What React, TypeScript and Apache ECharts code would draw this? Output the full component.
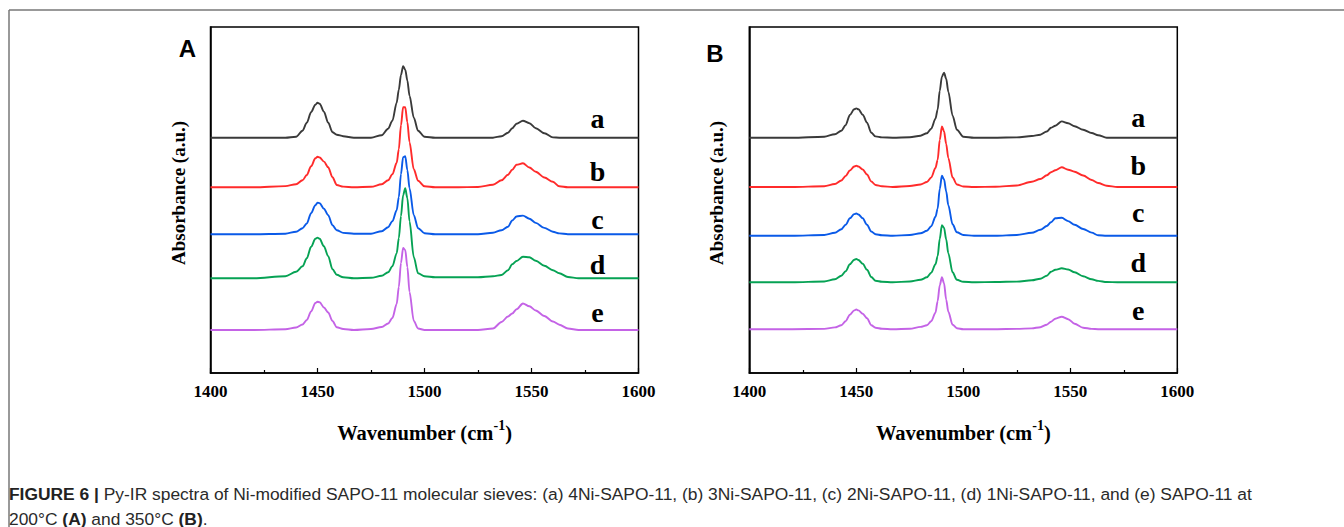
import React, { useEffect, useRef } from "react";
import * as echarts from "echarts";

// Wavenumber grid (cm-1)
const wavenumbers = [1400, 1420, 1435, 1440, 1443, 1445, 1447, 1449, 1450, 1451, 1453, 1455, 1457, 1459, 1462, 1467, 1475, 1480, 1483, 1485, 1487, 1488, 1489, 1490, 1491, 1492, 1493, 1495, 1497, 1500, 1505, 1515, 1525, 1532, 1536, 1539, 1541, 1543, 1546, 1549, 1552, 1556, 1560, 1563, 1567, 1572, 1580, 1590, 1600];

const sampleLabels = ["a", "b", "c", "d", "e"];
const sampleColors = ["#3a3a3a", "#ff2b2b", "#0a5ae8", "#06a254", "#c463e6"];

// Panel A (200 °C): absorbance above each baseline (a.u.)
const A_a = [0, 0, 0, 1, 7, 15, 25.5, 33, 35, 34, 26, 15, 5.5, 3, 1.5, 0, 0, 2.5, 9, 17, 35, 48, 62.7, 71.5, 68, 57, 42, 20, 7, 1, 0, 0, 0, 0, 1.5, 5, 9.5, 14, 17, 14.5, 9.5, 4.5, 0.3, 0, 0, 0, 0, 0, 0];
const A_b = [0, 0, 1.2, 3, 7, 12.3, 21, 29, 30.5, 29.8, 25.7, 20, 10, 2.3, 0.7, 0, 0.5, 3, 7, 13, 24.5, 38, 62, 80, 80, 65, 45, 18, 6.5, 1, 0, 0, 0.3, 2.5, 7, 12.5, 17.5, 22.5, 24, 19.8, 15.5, 9.8, 5.5, 1, 0, 0, 0, 0, 0];
const A_c = [0, 0, 0.5, 2.5, 6, 10.7, 21, 29, 31.5, 31, 25.5, 19, 9, 4, 1.3, 0.5, 0.5, 3, 7, 13, 24, 37, 60, 77, 78, 64, 46, 19, 6, 1, 0, 0, 0, 1.5, 4, 7.5, 13.7, 17.7, 18.6, 15.5, 11.3, 6.3, 2.5, 0.8, 0, 0, 0, 0, 0];
const A_d = [0, 0, 2, 6.5, 12, 20, 31.5, 39.5, 40.7, 39.5, 32, 22, 9, 3.5, 1, 0, 0.5, 2.5, 6, 12, 25, 40, 62, 83, 90, 80, 57, 21, 5, 2, 1, 1, 1, 2, 3.3, 8, 14, 17.3, 21.5, 21, 17.5, 12.5, 8, 5, 1.3, 0, 0, 0, 0];
const A_e = [0, 0, 0.8, 2.5, 5.5, 10, 18.5, 27, 28.3, 27.7, 22.5, 17.5, 9, 2.7, 1, 0, 1, 3, 6.5, 12, 26, 43, 67, 82, 80, 63, 38, 9, 1.5, 0, 0, 0, 0, 1.5, 8, 13.5, 16.5, 20.7, 26.5, 23.7, 19.5, 14, 8.5, 5.3, 1.5, 0, 0, 0, 0];
const A_offsets = [235.3, 185.7, 138.8, 94.7, 43];

// Panel B (350 °C)
const B_a = [0, 0, 1, 3.5, 7, 12.5, 22.7, 28.5, 29.3, 28.5, 23, 15, 5, 1.3, 0.3, 0, 0.5, 2, 4.5, 9, 19, 28, 47, 61, 65, 59, 46, 22, 8, 1, 0, 0, 0.3, 1.7, 3, 6.2, 10, 12, 16.3, 14.5, 11.5, 8, 4.7, 2.5, 0, 0, 0, 0, 0];
const B_b = [0, 0, 0.8, 3, 6.5, 11, 16.5, 20.5, 21.3, 20.5, 17.5, 12.5, 5.5, 2, 0.7, 0, 1, 2.5, 5, 9.5, 19, 27, 47, 60.5, 55.7, 43, 29, 9.5, 2.5, 0.5, 0, 0.3, 1.5, 5.2, 8, 11.7, 14.8, 16.7, 19.7, 17.3, 15.3, 11.5, 7, 4, 1.3, 0, 0, 0, 0];
const B_c = [0, 0, 0.8, 3, 6.5, 11, 17.5, 21.7, 22.3, 21.3, 17.5, 11, 4.3, 1.5, 0.5, 0, 0.8, 2.5, 5, 9.5, 19, 27, 47, 60, 56.5, 44.5, 30.5, 11.5, 3.5, 0.8, 0, 0, 0.8, 3, 6, 9.8, 13.5, 17.5, 18, 14.7, 11, 6.8, 3.2, 0.5, 0, 0, 0, 0, 0];
const B_d = [0, 0, 0.8, 3, 6.5, 11, 18, 22.5, 23.3, 22.3, 18.5, 12.5, 5.3, 1.5, 0.5, 0, 0.8, 2.5, 5, 9.5, 18, 26, 43.5, 57, 54.5, 43, 29, 10, 2.5, 0.5, 0, 0.3, 0.7, 2, 3.6, 6.5, 10.5, 12.5, 14, 12.8, 10, 6, 3, 1.4, 0.3, 0, 0, 0, 0];
const B_e = [0, 0, 0.3, 1.8, 4, 8, 14.5, 18.8, 19.7, 18.8, 15.5, 11, 4, 1.5, 0.5, 0, 0.5, 2.3, 4, 8, 16.5, 28, 44, 52, 46, 29.5, 17.5, 4.5, 1, 0, 0, 0, 0.3, 0.8, 2, 4.5, 7.5, 10.5, 12.5, 10, 5.5, 1.5, 0.3, 0, 0, 0, 0, 0, 0];
const B_offsets = [235.3, 186, 137.2, 90.7, 43.8];

const xTicks = { min: 1400, max: 1600, interval: 50 };
const panelLetters = ["A", "B"];

const SERIF = "'Times New Roman', 'Liberation Serif', serif";
const SANS = "Arial, 'Liberation Sans', Helvetica, sans-serif";

export default function App() {
  const ref = useRef<HTMLDivElement>(null);

  useEffect(() => {
    if (!ref.current) return;
    const chart = echarts.init(ref.current, undefined, { renderer: "svg" });

    const panels = [
      { curves: [A_a, A_b, A_c, A_d, A_e], offsets: A_offsets },
      { curves: [B_a, B_b, B_c, B_d, B_e], offsets: B_offsets },
    ];

    const grids = [
      { left: 210.5, top: 27, width: 428, height: 346 },
      { left: 749.3, top: 27, width: 428, height: 346 },
    ].map((g) => ({ ...g, show: true, borderColor: "#000", borderWidth: 1.5, backgroundColor: "transparent" }));

    const xAxes = [0, 1].map((i) => ({
      type: "value",
      gridIndex: i,
      min: xTicks.min,
      max: xTicks.max,
      interval: xTicks.interval,
      axisLine: { show: true, lineStyle: { color: "#000", width: 1.5 } },
      axisTick: { show: true, inside: true, length: 5, lineStyle: { color: "#000", width: 1.2 } },
      minorTick: { show: true, splitNumber: 2, length: 3, lineStyle: { color: "#000", width: 1.2 } },
      splitLine: { show: false },
      axisLabel: {
        margin: 10,
        color: "#000",
        fontFamily: SERIF,
        fontWeight: "bold",
        fontSize: 17,
        formatter: (v: number) => String(v),
      },
      name: "{m|Wavenumber (cm}{s|-1}{m|)}",
      nameLocation: "middle",
      nameGap: 45,
      nameTextStyle: {
        rich: {
          m: { fontFamily: SERIF, fontWeight: "bold", fontSize: 20.5, color: "#000", lineHeight: 25, verticalAlign: "bottom" },
          s: { fontFamily: SERIF, fontWeight: "bold", fontSize: 14, color: "#000", lineHeight: 15, verticalAlign: "top" },
        },
      },
    }));

    const yAxes = [0, 1].map((i) => ({
      type: "value",
      gridIndex: i,
      min: 0,
      max: 346,
      axisLine: { show: true, lineStyle: { color: "#000", width: 1.5 } },
      axisTick: { show: false },
      axisLabel: { show: false },
      splitLine: { show: false },
      name: "Absorbance (a.u.)",
      nameLocation: "middle",
      nameGap: 23,
      nameTextStyle: { fontFamily: SERIF, fontWeight: "bold", fontSize: 19, color: "#000", padding: [0, 0, 0, 14] },
    }));

    const series: any[] = [];
    panels.forEach((p, pi) => {
      p.curves.forEach((c, ci) => {
        series.push({
          type: "line",
          name: `${panelLetters[pi]}-${sampleLabels[ci]}`,
          xAxisIndex: pi,
          yAxisIndex: pi,
          data: wavenumbers.map((w, k) => [w, c[k] + p.offsets[ci]]),
          showSymbol: false,
          symbol: "none",
          smooth: 0.3,
          smoothMonotone: "x",
          lineStyle: { color: sampleColors[ci], width: 1.9 },
          z: 2,
        });
      });
    });

    const labelMidA = [118.2, 171.6, 219.2, 264.2, 312.6];
    const labelMidB = [117, 165, 212.7, 262.7, 310.3];

    const txt = (text: string, x: number, y: number, family: string, size: number) => ({
      type: "text",
      x,
      y,
      style: { text, fontFamily: family, fontWeight: "bold", fontSize: size, fill: "#000", align: "center", verticalAlign: "middle" },
    });

    const graphic: any[] = [
      { type: "line", shape: { x1: 9, y1: 10, x2: 1344, y2: 10 }, style: { stroke: "#777", lineWidth: 1.5 } },
      { type: "line", shape: { x1: 9, y1: 10, x2: 9, y2: 527 }, style: { stroke: "#777", lineWidth: 1.5 } },
      txt(panelLetters[0], 187.5, 48, SANS, 24),
      txt(panelLetters[1], 715, 53.5, SANS, 24),
    ];
    sampleLabels.forEach((l, i) => {
      graphic.push(txt(l, 597.5, labelMidA[i], SERIF, 28));
      graphic.push(txt(l, 1138.3, labelMidB[i], SERIF, 28));
    });
    graphic.push({
      type: "text",
      x: 9,
      y: 481,
      style: {
        text:
          "{b|FIGURE 6 |}{n| Py-IR spectra of Ni-modified SAPO-11 molecular sieves: (a) 4Ni-SAPO-11, (b) 3Ni-SAPO-11, (c) 2Ni-SAPO-11, (d) 1Ni-SAPO-11, and (e) SAPO-11 at}\n{n|200°C }{b|(A)}{n| and 350°C }{b|(B)}{n|.}",
        rich: {
          b: { fontFamily: SANS, fontWeight: "bold", fontSize: 17.4, fill: "#222", lineHeight: 25 },
          n: { fontFamily: SANS, fontSize: 17.4, fill: "#2a2a2a", lineHeight: 25 },
        },
        align: "left",
        verticalAlign: "top",
      },
    });

    chart.setOption({
      animation: false,
      backgroundColor: "#fff",
      grid: grids,
      xAxis: xAxes,
      yAxis: yAxes,
      series,
      graphic,
    });

    return () => chart.dispose();
  }, []);

  return <div ref={ref} style={{ position: "absolute", left: 0, top: 0, width: 1344, height: 527 }} />;
}
